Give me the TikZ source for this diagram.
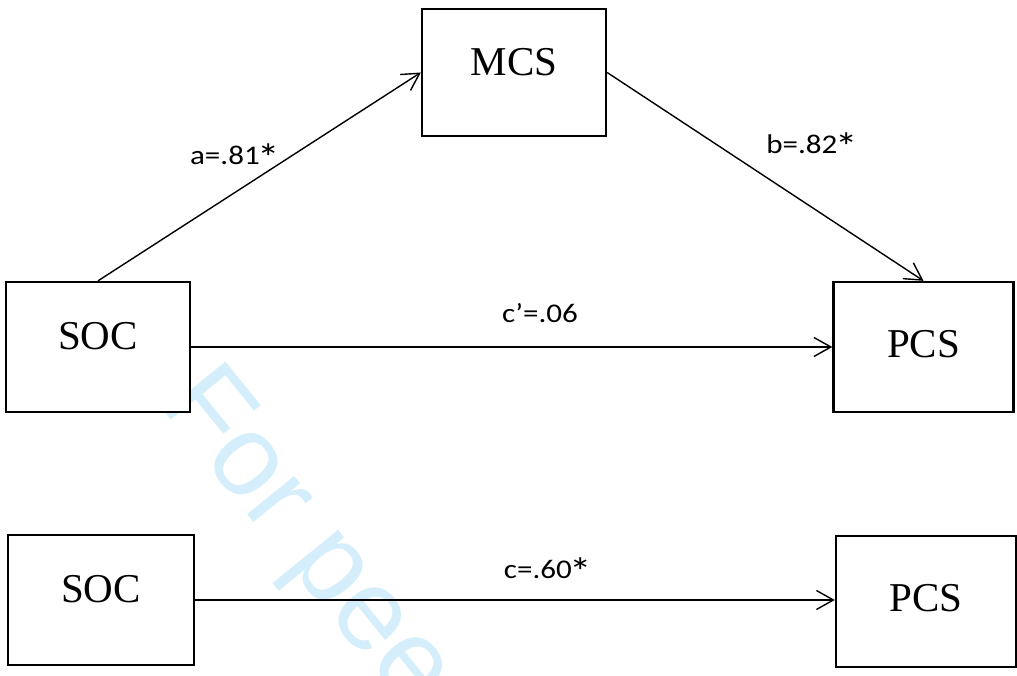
\documentclass[tikz,border=0pt]{standalone}
\usepackage{fontspec}
\usepackage{graphicx}
\setmainfont{Liberation Serif}
\newfontfamily\lblfont{Carlito}
\newfontfamily\wmfont{Liberation Sans}
\usetikzlibrary{arrows.meta}
\definecolor{wmcolor}{RGB}{212,238,251}
\newcommand\bigstarsym{\kern-2pt\raisebox{-7pt}{\scalebox{1.45}{*}}}
\begin{document}
\begin{tikzpicture}[x=1pt,y=1pt,
  box/.style={draw, line width=2.3pt, fill=white, inner sep=0pt},
  boxtext/.style={inner sep=0pt, font=\fontsize{41}{41}\selectfont},
  lbl/.style={inner sep=0pt, font=\lblfont\fontsize{27}{27}\selectfont},
  conn/.style={line width=1.4pt, -{Straight Barb[length=17pt,width=19pt]}},
  wmtext/.style={inner sep=0pt, text=wmcolor, font=\wmfont\fontsize{115}{115}\selectfont}]
\useasboundingbox (0,0) rectangle (1017,675);
\clip (0,0) rectangle (1017,675);
% watermark
\node[wmtext, rotate=-51, anchor=base west] (wmark) at (158,271) {For peer review};
% boxes
\node[box, minimum width=184pt, minimum height=127pt] (mcs) at (514,602.5) {};
\node[boxtext] (mcsT) at (514,612.5) {MCS};
\node[box, minimum width=184pt, minimum height=130pt] (soc1) at (98,328) {};
\node[boxtext] (soc1T) at (98,338.5) {SOC};
\node[box, minimum width=180pt, minimum height=130pt] (pcs1) at (923.5,328) {};
\node[boxtext] (pcs1T) at (923.5,330.5) {PCS};
\node[box, minimum width=186pt, minimum height=130pt] (soc2) at (101,75) {};
\node[boxtext] (soc2T) at (101,86) {SOC};
\node[box, minimum width=180pt, minimum height=131pt] (pcs2) at (926,73.5) {};
\node[boxtext] (pcs2T) at (926,77) {PCS};
% connectors
\draw[conn] (soc1.north) -- (mcs.west);
\draw[conn] (mcs.east) -- (pcs1.north);
\draw[conn] (soc1.east) -- (pcs1.west);
\draw[conn] (soc2.east) -- (soc2.east -| pcs2.west);
% labels
\node[lbl, anchor=base] (la) at (235,510) {\scalebox{1.15}[1]{a=.81\bigstarsym}};
\node[lbl, anchor=base] (lb) at (812,521) {\scalebox{1.15}[1]{b=.82\bigstarsym}};
\node[lbl, anchor=base] (lcp) at (540,352) {\scalebox{1.15}[1]{c’=.06}};
\node[lbl, anchor=base] (lc) at (548,97) {\scalebox{1.15}[1]{c=.60\bigstarsym}};
\end{tikzpicture}
\end{document}
